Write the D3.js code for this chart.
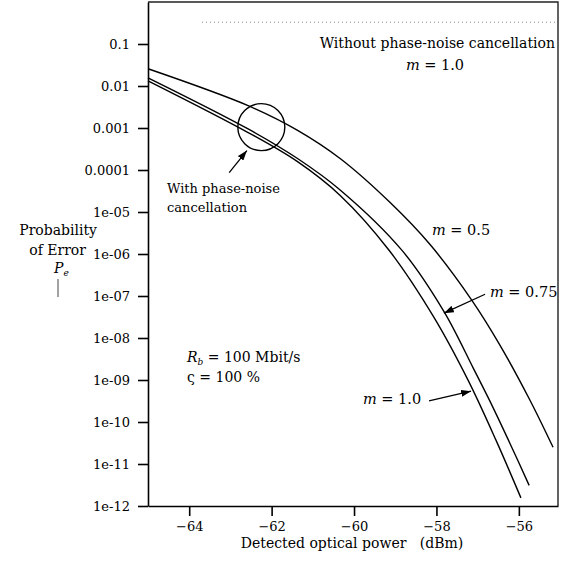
<!DOCTYPE html>
<html lang="en">
<head>
  <meta charset="UTF-8">
  <title>Probability of error vs detected optical power</title>
  <script src="https://d3js.org/d3.v7.min.js"></script>
  <style>
    body {
      margin: 0;
      background-color: white;
    }
    text {
      font-family: "DejaVu Serif", serif;
      font-size: 14px;
      fill: black;
    }
    .tick line, .domain {
      stroke: black;
      stroke-width: 1.6;
    }
  </style>
</head>
<body>
  <div id="chart"></div>

  <script>
    // x axis ticks (dBm) and y axis ticks (probability of error)
    const xTicks = [-64, -62, -60, -58, -56];
    const yTicks = [1e-1, 1e-2, 1e-3, 1e-4, 1e-5, 1e-6, 1e-7, 1e-8, 1e-9, 1e-10, 1e-11, 1e-12];
    const yTickLabels = ["0.1", "0.01", "0.001", "0.0001", "1e-05", "1e-06", "1e-07",
      "1e-08", "1e-09", "1e-10", "1e-11", "1e-12"];

    // m = 0.5
    const powerM05 = [-65, -62.57, -61.38, -60.33, -59.13, -58.16, -57.14, -56.46, -55.73, -55.17];
    const peM05 = [0.0257, 3.4e-3, 8.9e-4, 1.85e-4, 1.7e-5, 1.7e-6, 7.9e-8, 6.8e-9, 3.3e-10, 2.5e-11];

    // m = 0.75
    const powerM075 = [-65, -62.57, -61.38, -60.33, -58.83, -57.82, -57.11, -56.72, -56.21, -55.75];
    const peM075 = [0.0157, 9.5e-4, 1.9e-4, 3.3e-5, 1.2e-6, 4.3e-8, 1.95e-9, 3.4e-10, 3.0e-11, 3.1e-12];

    // m = 1.0
    const powerM10 = [-65, -62.57, -61.38, -60.33, -59.15, -58.06, -57.23, -56.55, -55.95];
    const peM10 = [0.0133, 7.8e-4, 1.6e-4, 2.45e-5, 1.23e-6, 3.1e-8, 9.8e-10, 3.6e-11, 1.56e-12];

    // without phase-noise cancellation, m = 1.0 (dotted, flat)
    const powerNoCancel = [-63.69, -55.12];
    const peNoCancel = [0.33, 0.33];

    // annotations in data units
    const circlePoint = [-62.25, 1.05e-3];
    const arrows = [
      { from: [-63.03, 8.7e-5], to: [-62.6, 2.9e-4] },
      { from: [-56.82, 1.1e-7], to: [-57.82, 3.9e-8] },
      { from: [-58.18, 3.2e-10], to: [-57.16, 5.4e-10] }
    ];

    let width = 561;
    let height = 563;

    let svg = d3.select("#chart")
      .append("svg")
      .attr("width", width)
      .attr("height", height);

    const xScale = d3.scaleLinear().domain([-65, -55.05]).range([148, 558]);
    const yScale = d3.scaleLog().domain([1e-12, 1]).range([506, 2]);

    // arrow head
    svg.append("defs").append("marker")
      .attr("id", "head")
      .attr("viewBox", "0 0 10 7")
      .attr("refX", 10)
      .attr("refY", 3.5)
      .attr("markerUnits", "userSpaceOnUse")
      .attr("markerWidth", 10)
      .attr("markerHeight", 7)
      .attr("orient", "auto")
      .append("path")
      .attr("d", "M0,0 L10,3.5 L0,7 z")
      .attr("fill", "black");

    // frame top / right
    svg.append("path")
      .attr("d", "M" + xScale(-65) + "," + yScale(1) + " H" + xScale(-55.05) + " V" + yScale(1e-12))
      .attr("fill", "none")
      .attr("stroke", "#222")
      .attr("stroke-width", 1.4);

    let xAxis = d3.axisBottom(xScale)
      .tickValues(xTicks)
      .tickSize(10)
      .tickSizeOuter(0)
      .tickPadding(6)
      .tickFormat(d => "\u2212" + Math.abs(d));
    svg.append("g")
      .attr("transform", "translate(0," + yScale(1e-12) + ")")
      .call(xAxis)
      .call(g => g.selectAll("text").style("font-size", "13px").style("font-family", "DejaVu Serif"));

    let yAxis = d3.axisLeft(yScale)
      .tickValues(yTicks)
      .tickSize(10)
      .tickSizeOuter(0)
      .tickPadding(8)
      .tickFormat((d, i) => yTickLabels[i]);
    svg.append("g")
      .attr("transform", "translate(" + xScale(-65) + ",0)")
      .call(yAxis)
      .call(g => g.selectAll("text").style("font-size", "13px").style("font-family", "DejaVu Serif"));

    // curves
    let line = d3.line()
      .x(d => xScale(d[0]))
      .y(d => yScale(d[1]))
      .curve(d3.curveCatmullRom.alpha(0.5));

    let series = [
      d3.zip(powerM05, peM05),
      d3.zip(powerM075, peM075),
      d3.zip(powerM10, peM10)
    ];
    series.forEach(s => {
      svg.append("path")
        .attr("d", line(s))
        .attr("fill", "none")
        .attr("stroke", "black")
        .attr("stroke-width", 1.4);
    });

    svg.append("path")
      .attr("d", line(d3.zip(powerNoCancel, peNoCancel)))
      .attr("fill", "none")
      .attr("stroke", "#888")
      .attr("stroke-width", 1)
      .attr("stroke-dasharray", "1,3");

    // circle + arrows
    svg.append("circle")
      .attr("cx", xScale(circlePoint[0]))
      .attr("cy", yScale(circlePoint[1]))
      .attr("r", 23.5)
      .attr("fill", "none")
      .attr("stroke", "black")
      .attr("stroke-width", 1.4);

    arrows.forEach(a => {
      svg.append("line")
        .attr("x1", xScale(a.from[0]))
        .attr("y1", yScale(a.from[1]))
        .attr("x2", xScale(a.to[0]))
        .attr("y2", yScale(a.to[1]))
        .attr("stroke", "black")
        .attr("stroke-width", 1.3)
        .attr("marker-end", "url(#head)");
    });

    // labels
    svg.append("text").attr("x", 555).attr("y", 48).attr("text-anchor", "end")
      .text("Without phase-noise cancellation");

    function mLabel(x, y, value, anchor) {
      let t = svg.append("text").attr("x", x).attr("y", y).attr("text-anchor", anchor)
        .attr("xml:space", "preserve").style("font-size", "14.5px");
      t.append("tspan").style("font-style", "italic").text("m");
      t.append("tspan").text(" = " + value);
    }
    mLabel(435, 70, "1.0", "middle");
    mLabel(432, 235, "0.5", "start");
    mLabel(490, 297, "0.75", "start");
    mLabel(363, 404, "1.0", "start");

    svg.append("text").attr("x", 167).attr("y", 193).style("font-size", "13px").text("With phase-noise");
    svg.append("text").attr("x", 167).attr("y", 212).style("font-size", "13px").text("cancellation");

    let rb = svg.append("text").attr("x", 187).attr("y", 362).attr("xml:space", "preserve");
    rb.append("tspan").style("font-style", "italic").text("R");
    rb.append("tspan").attr("dy", 3).style("font-size", "9px").style("font-style", "italic").text("b");
    rb.append("tspan").attr("dy", -3).text(" = 100 Mbit/s");

    svg.append("text").attr("x", 187).attr("y", 382).attr("xml:space", "preserve")
      .text("\u03C2 = 100 %");

    // y label
    svg.append("text").attr("x", 97).attr("y", 235).attr("text-anchor", "end").text("Probability");
    svg.append("text").attr("x", 86).attr("y", 255).attr("text-anchor", "end").text("of Error");
    let pe = svg.append("text").attr("x", 54).attr("y", 273);
    pe.append("tspan").style("font-style", "italic").text("P");
    pe.append("tspan").attr("dy", 3).style("font-size", "9px").style("font-style", "italic").text("e");
    svg.append("line")
      .attr("x1", 58).attr("x2", 58).attr("y1", 279).attr("y2", 297)
      .attr("stroke", "#444").attr("stroke-width", 1);

    // x label
    svg.append("text").attr("x", 352).attr("y", 548).attr("text-anchor", "middle")
      .attr("xml:space", "preserve")
      .text("Detected optical power   (dBm)");
  </script>
</body>
</html>
